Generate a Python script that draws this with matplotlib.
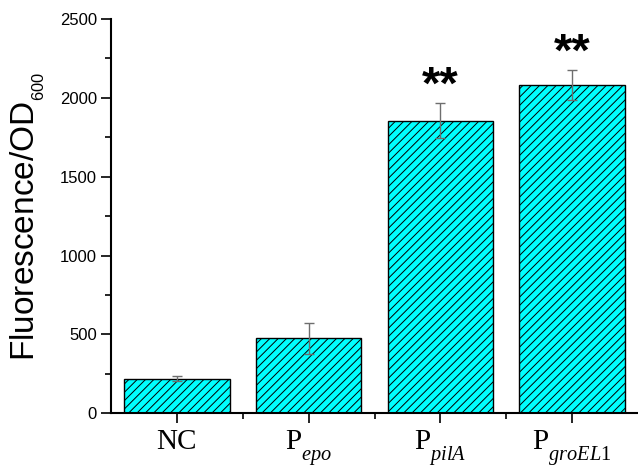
import numpy as np
import matplotlib
matplotlib.use("Agg")
import matplotlib.pyplot as plt
from matplotlib import _mathtext
from matplotlib.ticker import MultipleLocator, FixedLocator

plt.rcParams["mathtext.fontset"] = "custom"
plt.rcParams["mathtext.rm"] = "Liberation Serif"
plt.rcParams["mathtext.it"] = "Liberation Serif:italic"
plt.rcParams["mathtext.sf"] = "Liberation Sans"
plt.rcParams["hatch.linewidth"] = 0.7


# subscripts sit lower in the original figure
class SerifConsts(_mathtext.FontConstantsBase):
    sub1 = 0.8


class SansConsts(_mathtext.FontConstantsBase):
    sub1 = 0.34


_mathtext._font_constant_mapping["Liberation Serif"] = SerifConsts
_mathtext._font_constant_mapping["Liberation Sans"] = SansConsts

CATEGORIES = ["NC", "P$_{\\mathit{epo}}$", "P$_{\\mathit{pilA}}$", "P$_{\\mathit{groEL1}}$"]
VALUES = [220, 476, 1855, 2081]
ERRORS = [18, 97, 111, 94]
SIG = ["", "", "**", "**"]

fig = plt.figure(figsize=(6.38, 4.71), dpi=100)
ax = fig.add_axes([0.174, 0.1225, 0.826, 0.8372])

x = np.arange(len(CATEGORIES))
ax.bar(x, VALUES, width=0.8, color="#00ffff", edgecolor="black",
       linewidth=1.0, hatch="////", zorder=2)
ax.errorbar(x, VALUES, yerr=ERRORS, fmt="none", ecolor="#6e6e6e",
            elinewidth=1.0, capsize=3.5, capthick=1.0, zorder=3)

for xi, v, e, s in zip(x, VALUES, ERRORS, SIG):
    if s:
        ax.annotate(s, (xi, v + e), xytext=(0, -4), textcoords="offset points",
                    ha="center", va="bottom", fontsize=34, fontweight="bold",
                    family="Liberation Sans")

ax.set_xlim(-0.5, 3.5)
ax.set_ylim(0, 2500)
ax.set_xticks(x)
ax.set_xticklabels(CATEGORIES, fontsize=21, family="Liberation Serif")
ax.xaxis.set_minor_locator(FixedLocator([0.5, 1.5, 2.5]))
ax.yaxis.set_major_locator(MultipleLocator(500))
ax.yaxis.set_minor_locator(MultipleLocator(250))
for lab in ax.get_yticklabels():
    lab.set_family("Liberation Sans")
    lab.set_fontsize(12)

ax.tick_params(which="major", direction="out", length=7, width=1.2, pad=4)
ax.tick_params(which="minor", direction="out", length=4, width=1.2)
ax.tick_params(axis="y", which="major", pad=3)

ax.spines["top"].set_visible(False)
ax.spines["right"].set_visible(False)
ax.spines["left"].set_linewidth(1.5)
ax.spines["bottom"].set_linewidth(1.5)

ax.set_ylabel("Fluorescence/OD$\\sf_{_{600}}$", fontsize=24,
              family="Liberation Sans", labelpad=9)

fig.savefig("out.png", dpi=100)
